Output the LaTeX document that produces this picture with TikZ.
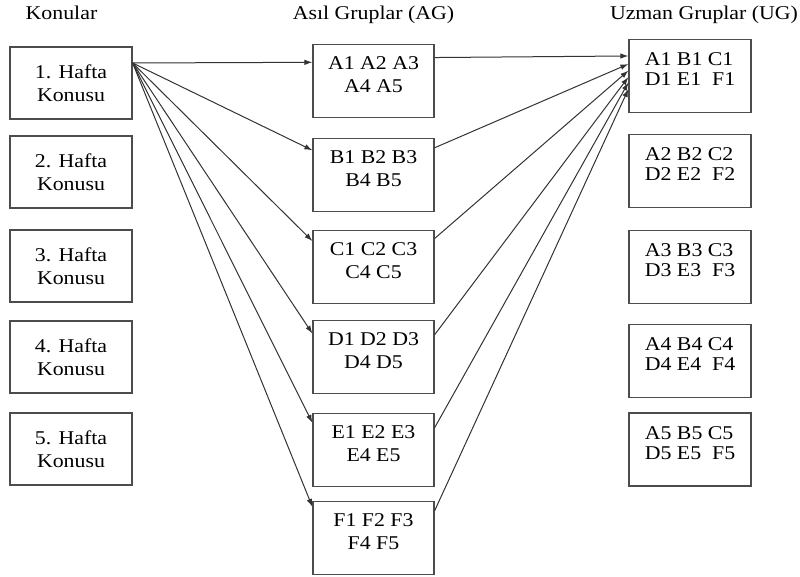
\documentclass[tikz,border=0pt]{standalone}
\usepackage{fontspec}
\setmainfont{Liberation Serif}[FakeStretch=1.12]
\usetikzlibrary{arrows.meta}
\begin{document}
\begin{tikzpicture}[x=1pt,y=-1pt,>={Latex[length=8pt,width=5.5pt]},font=\fontsize{19.5}{23}\selectfont]
        \tikzstyle{konu}=[draw=black!70,line width=1.2pt,minimum width=122pt,minimum height=72pt,align=center]
        \tikzstyle{asil}=[draw=black!70,line width=1.2pt,minimum width=121pt,align=center,inner xsep=2pt,inner ysep=0pt,text height=48pt,text depth=25pt]
        \tikzstyle{uzman}=[draw=black!70,line width=1.2pt,minimum width=122pt,align=left,inner ysep=0pt,text height=46pt,text depth=27pt,font=\fontsize{19.5}{20}\selectfont]
        \tikzstyle{baslik}=[anchor=base,inner sep=0pt]
        \tikzstyle{edge}=[draw=black!80,line width=1pt,->]
        \useasboundingbox (0,0) rectangle (800,577);

        % basliklar
        \node [baslik] (tkonu) at (61.5,20) {Konular};
        \node [baslik] (tasil) at (373.5,20) {Asıl Gruplar (AG)};
        \node [baslik] (tuzman) at (704,20) {Uzman Gruplar (UG)};

        % konular
        \node [konu] (k1) at (71,83) {1. Hafta\\Konusu};
        \node [konu] (k2) at (71,172) {2. Hafta\\Konusu};
        \node [konu] (k3) at (71,266) {3. Hafta\\Konusu};
        \node [konu] (k4) at (71,357) {4. Hafta\\Konusu};
        \node [konu] (k5) at (71,449) {5. Hafta\\Konusu};

        % asil gruplar
        \node [asil] (a) at (373.5,81) {A1 A2 A3\\A4 A5};
        \node [asil] (b) at (373.5,175) {B1 B2 B3\\B4 B5};
        \node [asil] (c) at (373.5,267) {C1 C2 C3\\C4 C5};
        \node [asil] (d) at (373.5,357) {D1 D2 D3\\D4 D5};
        \node [asil] (e) at (373.5,450) {E1 E2 E3\\E4 E5};
        \node [asil] (f) at (373.5,538) {F1 F2 F3\\F4 F5};

        % uzman gruplar
        \node [uzman] (u1) at (690,76) {A1 B1 C1\\D1 E1~ F1};
        \node [uzman] (u2) at (690,171) {A2 B2 C2\\D2 E2~ F2};
        \node [uzman] (u3) at (690,267) {A3 B3 C3\\D3 E3~ F3};
        \node [uzman] (u4) at (690,361) {A4 B4 C4\\D4 E4~ F4};
        \node [uzman] (u5) at (690,449.5) {A5 B5 C5\\D5 E5~ F5};

        \path (k1.18) edge [edge] (a.163.4);
        \path (k1.18) edge [edge] (b.158.4);
        \path (k1.18) edge [edge] (c.157.5);
        \path (k1.18) edge [edge] (d.159);
        \path (k1.18) edge [edge] (e.156.7);
        \path (k1.18) edge [edge] (f.153.6);

        \path (a.21.6) edge [edge] (u1.162.7);
        \path (b.24.8) edge [edge] (u1.169.8);
        \path (c.25.6) edge [edge] (u1.175.3);
        \path (d.20) edge [edge] (u1.181);
        \path (e.20) edge [edge] (u1.186.5);
        \path (f.24.8) edge [edge] (u1.192);
\end{tikzpicture}
\end{document}
